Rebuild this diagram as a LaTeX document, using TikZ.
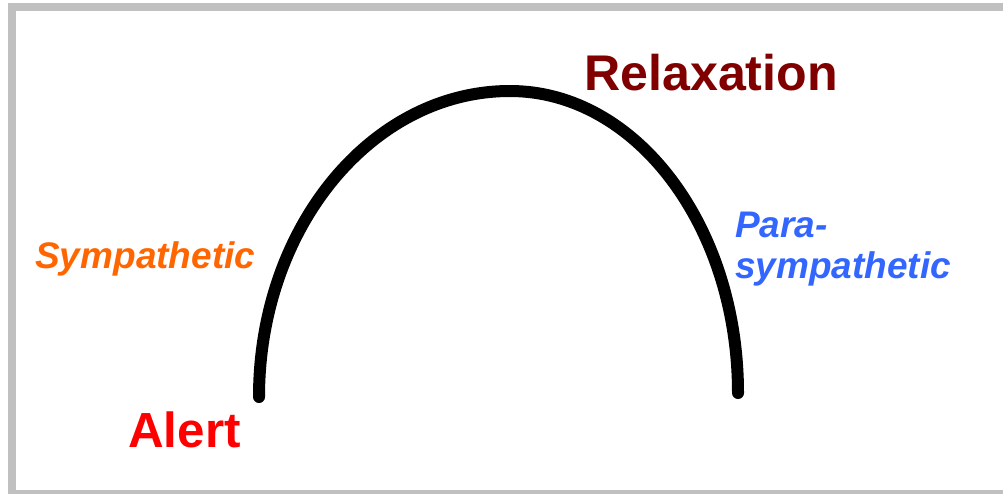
\documentclass[tikz,border=0pt]{standalone}
\usepackage{fontspec}
\setmainfont{Liberation Sans}
\definecolor{framegray}{HTML}{C0C0C0}
\definecolor{sympor}{HTML}{FF6600}
\definecolor{parabl}{HTML}{3366FF}
\definecolor{relaxred}{HTML}{800000}
\definecolor{alertred}{HTML}{FF0000}
\begin{document}
\begin{tikzpicture}[x=0.75pt,y=-0.75pt,
  frame/.style={draw=framegray,line width=6pt},
  curve/.style={draw=black,line width=9pt,line cap=round},
  lbl/.style={inner sep=0pt,anchor=base west,font=\bfseries}]
\clip (0,0) rectangle (1003,493);
\fill[white] (0,0) rectangle (1003,493);
\draw[frame] (11.5,7) rectangle (1012,494);
\coordinate (L) at (259,397);
\coordinate (T) at (510,91);
\coordinate (R) at (738,393);
\draw[curve] (L) .. controls (259,228) and (371.4,91) .. (T)
  .. controls (635.9,91) and (738,226.2) .. (R);
\node[lbl,text=relaxred,font=\bfseries\fontsize{37.6pt}{40pt}\selectfont] (relax) at (584,90) {Relaxation};
\node[lbl,text=alertred,font=\bfseries\fontsize{37pt}{40pt}\selectfont] (alert) at (128,447) {Alert};
\node[lbl,text=sympor,font=\bfseries\itshape\fontsize{27.75pt}{30pt}\selectfont] (symp) at (35,268) {Sympathetic};
\node[lbl,text=parabl,font=\bfseries\itshape\fontsize{27.75pt}{30pt}\selectfont] (para1) at (735,237) {Para-};
\node[lbl,text=parabl,font=\bfseries\itshape\fontsize{27.75pt}{30pt}\selectfont] (para2) at (735,278) {sympathetic};
\end{tikzpicture}
\end{document}
